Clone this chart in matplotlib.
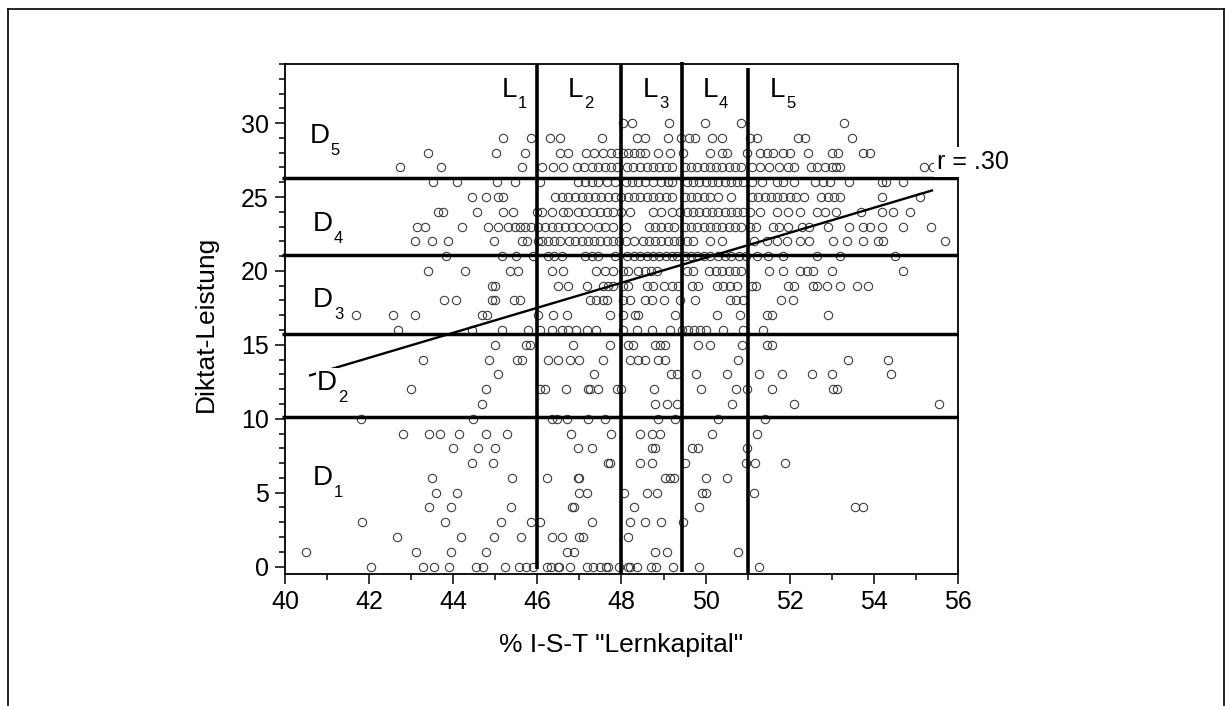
import numpy as np
import matplotlib.pyplot as plt
from matplotlib.lines import Line2D
from matplotlib.ticker import MultipleLocator

plt.rcParams['font.family'] = ['Liberation Sans', 'DejaVu Sans']

# Lernkapital (x) values of the pupils, grouped by their Diktat score (y)
diktat_0 = [42.04, 43.27, 43.54, 43.90, 44.55, 44.70, 45.22, 45.56, 45.72, 45.90, 46.24, 46.32, 46.48,
            46.52, 46.77, 47.18, 47.32, 47.48, 47.64, 47.68, 47.94, 48.15, 48.20, 48.37, 48.70, 48.82,
            49.23, 49.85, 51.27]
diktat_1 = [40.51, 43.11, 43.95, 44.79, 46.70, 46.88, 48.80, 49.08, 50.76]
diktat_2 = [42.66, 44.18, 44.97, 45.60, 46.34, 46.59, 46.98, 47.09, 48.15]
diktat_3 = [41.82, 43.80, 45.13, 45.86, 46.06, 47.29, 48.20, 48.56, 48.94, 49.46]
diktat_4 = [43.43, 43.95, 45.37, 46.82, 46.86, 48.30, 49.85, 53.56, 53.74]
diktat_5 = [43.58, 44.08, 46.98, 47.18, 48.06, 48.60, 48.84, 49.92, 50.02, 51.14]
diktat_6 = [43.50, 45.39, 46.24, 46.96, 47.00, 49.03, 49.16, 49.24, 50.02, 50.52]
diktat_7 = [44.44, 44.95, 47.69, 47.73, 48.43, 48.72, 49.52, 50.96, 51.17, 51.89]
diktat_8 = [44.00, 44.60, 45.00, 46.96, 47.29, 48.72, 48.80, 49.68, 49.81, 50.98]
diktat_9 = [42.81, 43.42, 43.68, 44.13, 44.79, 45.27, 46.80, 47.74, 48.44, 48.72, 48.92, 50.16, 51.22]
diktat_10 = [41.80, 44.48, 46.34, 46.46, 46.70, 47.21, 47.61, 48.88, 49.27, 50.30, 51.41]
diktat_11 = [44.69, 48.80, 49.09, 49.31, 50.62, 52.11, 55.55]
diktat_12 = [42.99, 44.77, 46.06, 46.18, 46.68, 47.21, 47.25, 47.45, 47.89, 48.00, 48.78, 49.88,
             50.72, 50.99, 51.57, 53.04, 53.12]
diktat_13 = [45.07, 47.35, 49.18, 49.33, 49.77, 50.50, 51.28, 51.81, 52.54, 53.00, 54.40]
diktat_14 = [43.27, 44.85, 45.51, 45.63, 46.26, 46.50, 46.78, 47.00, 47.57, 48.20, 48.40, 48.56,
             48.88, 49.04, 50.78, 53.39, 54.33]
diktat_15 = [44.99, 45.74, 45.82, 46.85, 47.73, 48.16, 48.28, 48.80, 48.92, 49.04, 49.83, 50.10,
             50.86, 51.45, 51.57]
diktat_16 = [42.69, 44.44, 45.15, 45.78, 46.06, 46.34, 46.58, 46.74, 46.93, 47.17, 47.40, 48.04,
             48.36, 48.72, 49.15, 49.45, 49.58, 49.72, 49.86, 50.00, 50.42, 50.90, 51.37]
diktat_17 = [41.69, 42.56, 43.09, 44.68, 44.80, 46.02, 46.38, 46.70, 47.73, 48.04, 48.32, 48.40,
             49.27, 50.26, 50.82, 51.45, 51.57, 52.92]
diktat_18 = [43.79, 44.06, 44.91, 45.00, 45.45, 45.59, 47.25, 47.40, 47.55, 47.65, 48.04, 48.20,
             48.56, 48.72, 49.00, 49.40, 49.75, 50.58, 50.72, 50.88, 51.80, 52.08]
diktat_19 = [44.91, 44.99, 46.50, 46.73, 47.17, 47.57, 47.69, 47.80, 48.04, 48.16, 48.60, 48.75,
             49.00, 49.20, 49.35, 49.67, 49.83, 50.26, 50.42, 50.58, 50.74, 51.10, 51.20, 51.97,
             52.10, 52.55, 52.64, 52.88, 53.20, 53.60, 53.87]
diktat_20 = [43.39, 44.28, 45.35, 45.55, 46.34, 46.62, 47.40, 47.60, 47.80, 48.04, 48.16, 48.40,
             48.55, 48.70, 48.85, 49.55, 49.70, 50.07, 50.25, 50.40, 50.55, 50.70, 50.85, 51.50,
             51.85, 52.25, 52.40, 52.55, 53.00, 54.70]
diktat_21 = [43.84, 45.15, 45.50, 45.90, 46.26, 46.40, 46.58, 47.13, 47.30, 47.45, 47.85, 48.12,
             48.30, 48.45, 48.60, 48.75, 48.90, 49.05, 49.20, 49.32, 49.50, 49.65, 49.80, 49.95,
             50.10, 50.30, 50.45, 50.60, 50.80, 50.95, 51.21, 51.49, 51.85, 52.64, 53.20, 54.50]
diktat_22 = [43.09, 43.49, 43.88, 44.97, 45.63, 45.75, 46.02, 46.10, 46.25, 46.40, 46.55, 46.75,
             46.90, 47.05, 47.20, 47.35, 47.50, 47.65, 47.80, 47.95, 48.10, 48.30, 48.50, 48.65,
             48.80, 48.95, 49.10, 49.25, 49.40, 49.55, 49.70, 50.10, 50.40, 51.14, 51.45, 51.70,
             51.93, 52.25, 52.45, 53.04, 53.35, 53.75, 54.10, 54.22, 55.69]
diktat_23 = [43.13, 43.33, 44.20, 44.83, 45.07, 45.31, 45.47, 45.59, 45.71, 45.86, 46.02, 46.18,
             46.34, 46.50, 46.66, 46.82, 46.98, 47.20, 47.45, 47.60, 47.80, 48.10, 48.65, 48.80,
             48.95, 49.10, 49.25, 49.50, 49.65, 49.80, 49.95, 50.10, 50.25, 50.40, 50.55, 50.70,
             50.85, 51.05, 51.20, 51.60, 51.75, 51.95, 52.30, 52.45, 52.90, 53.40, 53.75, 53.90,
             54.20, 54.70, 55.35]
diktat_24 = [43.65, 43.76, 44.56, 45.19, 45.43, 45.98, 46.10, 46.34, 46.60, 46.74, 46.97, 47.13,
             47.33, 47.50, 47.65, 47.80, 48.00, 48.20, 48.75, 48.95, 49.20, 49.40, 49.55, 49.70,
             49.85, 50.00, 50.15, 50.30, 50.45, 50.60, 50.75, 50.90, 51.05, 51.30, 51.70, 51.95,
             52.25, 52.65, 52.85, 53.10, 53.70, 54.20, 54.45, 54.85]
diktat_25 = [44.44, 44.79, 45.07, 45.19, 46.42, 46.58, 46.74, 46.90, 47.05, 47.20, 47.36, 47.52,
             47.68, 47.84, 48.00, 48.15, 48.30, 48.45, 48.60, 48.75, 48.90, 49.05, 49.20, 49.50,
             49.65, 49.80, 49.95, 50.10, 50.30, 50.60, 51.10, 51.25, 51.40, 51.55, 51.70, 51.85,
             52.00, 52.15, 52.35, 52.75, 52.90, 53.05, 53.20, 54.20, 55.10]
diktat_26 = [43.51, 44.10, 45.03, 45.47, 46.06, 46.97, 47.13, 47.30, 47.45, 47.65, 47.85, 48.10,
             48.25, 48.40, 48.55, 48.75, 48.95, 49.10, 49.20, 49.55, 49.70, 49.85, 50.00, 50.15,
             50.30, 50.45, 50.60, 50.75, 50.90, 51.10, 51.35, 51.70, 51.85, 52.10, 52.60, 52.80,
             52.95, 53.40, 54.20, 54.30, 54.70]
diktat_27 = [42.73, 43.71, 45.64, 46.10, 46.37, 46.60, 46.95, 47.10, 47.30, 47.45, 47.60, 47.75,
             47.90, 48.12, 48.28, 48.45, 48.60, 48.75, 48.90, 49.05, 49.20, 49.50, 49.65, 49.80,
             49.95, 50.10, 50.25, 50.40, 50.55, 50.70, 50.85, 51.10, 51.30, 51.50, 51.75, 51.95,
             52.10, 52.50, 52.65, 52.85, 53.00, 53.10, 53.20, 55.20, 55.40]
diktat_28 = [43.39, 45.01, 45.71, 46.54, 46.74, 47.15, 47.35, 47.55, 47.75, 47.90, 48.04, 48.15,
             48.30, 48.45, 48.55, 48.88, 49.15, 49.46, 50.10, 50.40, 50.50, 50.98, 51.30, 51.45,
             51.60, 51.85, 52.00, 52.44, 53.00, 53.15, 53.75, 53.90]
diktat_29 = [45.19, 45.85, 46.30, 46.54, 47.53, 48.38, 48.56, 49.10, 49.42, 49.60, 49.75, 50.15,
             50.40, 51.05, 51.22, 52.20, 52.36, 53.47]
diktat_30 = [48.04, 48.24, 49.14, 49.99, 50.84, 53.30]

rows = [diktat_0, diktat_1, diktat_2, diktat_3, diktat_4, diktat_5, diktat_6, diktat_7, diktat_8,
        diktat_9, diktat_10, diktat_11, diktat_12, diktat_13, diktat_14, diktat_15, diktat_16,
        diktat_17, diktat_18, diktat_19, diktat_20, diktat_21, diktat_22, diktat_23, diktat_24,
        diktat_25, diktat_26, diktat_27, diktat_28, diktat_29, diktat_30]

# group borders
l_cuts = [46.0, 48.0, 49.44, 51.0]
l_bottom = [-0.15, -0.5, -0.35, -0.5]
l_top = [34.0, 34.0, 34.15, 33.7]
d_cuts = [10.1, 15.7, 21.1, 26.3]

# regression line, r = .30
fit_x = [40.6, 55.38]
fit_y = [12.94, 25.44]

d_names = ['1', '2', '3', '4', '5']
d_label_x = [40.67, 40.76, 40.67, 40.67, 40.59]
d_label_y = [5.53, 11.96, 17.57, 22.71, 28.66]
l_names = ['1', '2', '3', '4', '5']
l_label_x = [45.16, 46.73, 48.51, 49.94, 51.53]

lern = []
dikt = []
for score, xs in enumerate(rows):
    lern += xs
    dikt += [score] * len(xs)

fig = plt.figure(figsize=(12.32, 7.06), dpi=100)
ax = fig.add_axes([0.2313, 0.187, 0.5463, 0.7224])

ax.plot(lern, dikt, 'o', ms=6, mfc='none', mec='#3c3c3c', mew=0.8, zorder=2)

for x, lo, hi in zip(l_cuts, l_bottom, l_top):
    ax.plot([x, x], [lo, hi], color='black', lw=2.6, solid_capstyle='butt', clip_on=False, zorder=3)
for y in d_cuts:
    ax.plot([39.93, 56], [y, y], color='black', lw=2.5, solid_capstyle='butt', clip_on=False, zorder=3)

ax.plot(fit_x, fit_y, color='black', lw=1.7, zorder=3)

for name, x, y in zip(d_names, d_label_x, d_label_y):
    box = dict(facecolor='white', edgecolor='none', pad=1) if name == '2' else None
    ax.text(x, y, 'D', fontsize=20, ha='left', va='baseline', bbox=box, zorder=4)
    ax.annotate(name, (x, y), xytext=(15, -8.5), textcoords='offset points',
                fontsize=12, ha='left', va='baseline', zorder=4)

for name, x in zip(l_names, l_label_x):
    ax.text(x, 31.78, 'L', fontsize=20, ha='left', va='baseline', zorder=4)
    ax.annotate(name, (x, 31.78), xytext=(11.5, -8), textcoords='offset points',
                fontsize=12, ha='left', va='baseline', zorder=4)

ax.text(55.5, 26.9, 'r = .30', fontsize=18, ha='left', va='baseline', clip_on=False, zorder=5,
        bbox=dict(facecolor='white', edgecolor='none', pad=2))

ax.set_xlim(40, 56)
ax.set_ylim(-0.5, 34)
ax.xaxis.set_major_locator(MultipleLocator(2))
ax.xaxis.set_minor_locator(MultipleLocator(1))
ax.yaxis.set_major_locator(MultipleLocator(5))
ax.yaxis.set_minor_locator(MultipleLocator(1))
ax.set_yticks(np.arange(0, 31, 5))
ax.tick_params(which='both', direction='out', width=1.1, top=False, right=False, labelsize=18)
ax.tick_params(which='major', length=7.5, pad=4)
ax.tick_params(axis='y', which='minor', length=4.5)
ax.tick_params(axis='x', which='minor', length=4)
for s in ax.spines.values():
    s.set_linewidth(1.3)

ax.set_xlabel('% I-S-T "Lernkapital"', fontsize=19)
ax.set_ylabel('Diktat-Leistung', fontsize=19)
ax.xaxis.set_label_coords(0.5, -0.115)
ax.yaxis.set_label_coords(-0.1, 0.49)

# frame around the figure
fig.add_artist(Line2D([8 / 1232, 8 / 1232], [0, 1 - 9 / 706], color='black', lw=1.2))
fig.add_artist(Line2D([8 / 1232, 1224 / 1232], [1 - 9 / 706, 1 - 9 / 706], color='black', lw=1.2))
fig.add_artist(Line2D([1224 / 1232, 1224 / 1232], [0, 1 - 9 / 706], color='black', lw=1.2))

fig.savefig('out.png', dpi=100)
